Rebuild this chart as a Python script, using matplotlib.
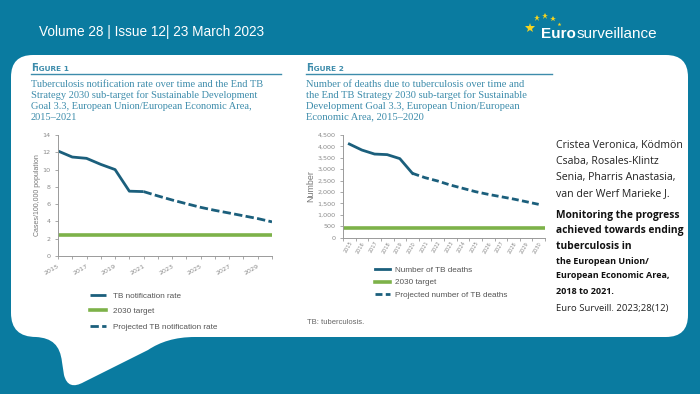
import matplotlib
matplotlib.use("Agg")
import matplotlib.pyplot as plt
from matplotlib.path import Path
from matplotlib.patches import PathPatch
from matplotlib.ticker import FuncFormatter, FixedLocator

# ---------------- data ----------------
years1 = [2015, 2016, 2017, 2018, 2019, 2020, 2021]
rate1 = [12.15, 11.45, 11.3, 10.6, 10.0, 7.5, 7.45]
proj_years1 = [2021, 2022, 2023, 2024, 2025, 2026, 2027, 2028, 2029, 2030]
proj_rate1 = [7.45, 6.95, 6.48, 6.05, 5.63, 5.28, 4.97, 4.65, 4.33, 3.95]
target1 = 2.43
xticks1 = list(range(2015, 2031))
xlabels1 = [str(y) if y % 2 == 1 else "" for y in xticks1]

years2 = ["2015", "2016", "2017", "2018", "2019", "2020", "2021", "2022",
          "2023", "2024", "2025", "2026", "2027", "2028", "2029", "2030"]
deaths2 = [4105, 3840, 3665, 3640, 3465, 2820]
proj_deaths2 = [2820, 2630, 2484, 2308, 2162, 2016, 1900, 1797, 1695, 1578, 1461]
target2 = 410

BG = "#0a7ba0"
DARK = "#1b5f7c"
GREEN = "#7db249"
TEAL_TXT = "#3d8cab"
GRAY = "#8a8a8a"
NARROW = ["Liberation Sans", "DejaVu Sans"]

W, H = 700, 394
fig = plt.figure(figsize=(7, 3.94), dpi=100)
fig.patch.set_facecolor(BG)

# overlay axes in pixel coordinates
ov = fig.add_axes([0, 0, 1, 1])
ov.set_xlim(0, W)
ov.set_ylim(H, 0)
ov.axis("off")

verts = [
    (33, 55), (666, 55), (688, 55), (688, 77), (688, 315), (688, 337), (666, 337),
    (195, 337), (175, 337), (160, 342), (148, 350),
    (84, 382), (68, 391), (64, 375),
    (62, 362), (60, 345), (52, 338), (36, 337),
    (11, 337), (11, 313), (11, 77), (11, 55), (33, 55), (33, 55)]
codes = [Path.MOVETO, Path.LINETO, Path.CURVE3, Path.CURVE3, Path.LINETO, Path.CURVE3, Path.CURVE3,
         Path.LINETO, Path.CURVE4, Path.CURVE4, Path.CURVE4,
         Path.LINETO, Path.CURVE3, Path.CURVE3,
         Path.LINETO, Path.CURVE4, Path.CURVE4, Path.CURVE4,
         Path.CURVE3, Path.CURVE3, Path.LINETO, Path.CURVE3, Path.CURVE3, Path.CLOSEPOLY]
ov.add_patch(PathPatch(Path(verts, codes), facecolor="white", edgecolor="none"))

# header
ov.text(39, 32, "Volume 28 | Issue 12| 23 March 2023", color="white", fontsize=9.8,
        family=NARROW, va="center", ha="left")
t_euro = ov.text(541, 33.5, "Euro", color="white", fontsize=11, family=NARROW, weight="bold",
                 va="center", ha="left")
fig.canvas.draw()
bb = t_euro.get_window_extent()
euro_end = bb.x1
ov.text(euro_end + 0.5, 33.5, "surveillance", color="white", fontsize=11, family=NARROW,
        va="center", ha="left")
for (sx, sy, ss) in [(530, 28, 7), (537, 18, 5), (545, 16, 5), (553, 19, 4), (559, 24, 3)]:
    ov.plot([sx], [sy], marker="*", color="#f5d320", markersize=ss, markeredgewidth=0)

# figure headings
def small_caps(x, y, num):
    ov.text(x, y, "F", color=TEAL_TXT, fontsize=7, weight="bold", family="DejaVu Sans",
            va="baseline", ha="left")
    ov.text(x + 5.2, y, "IGURE " + num, color=TEAL_TXT, fontsize=5.3, weight="bold",
            family="DejaVu Sans", va="baseline", ha="left")

small_caps(31, 71, "1")
small_caps(306, 71, "2")
ov.plot([31, 281], [74, 74], color=TEAL_TXT, lw=1)
ov.plot([306, 552], [74, 74], color=TEAL_TXT, lw=1)

title1 = ["Tuberculosis notification rate over time and the End TB",
          "Strategy 2030 sub-target for Sustainable Development",
          "Goal 3.3, European Union/European Economic Area,",
          "2015\u20132021"]
title2 = ["Number of deaths due to tuberculosis over time and",
          "the End TB Strategy 2030 sub-target for Sustainable",
          "Development Goal 3.3, European Union/European",
          "Economic Area, 2015\u20132020"]
for i, line in enumerate(title1):
    ov.text(31, 84 + 11 * i, line, color=TEAL_TXT, fontsize=7.5, family="Liberation Serif",
            va="center", ha="left")
for i, line in enumerate(title2):
    ov.text(306, 84 + 11 * i, line, color=TEAL_TXT, fontsize=7.55, family="Liberation Serif",
            va="center", ha="left")

ov.text(307, 322, "TB: tuberculosis.", color="#666666", fontsize=5.5, family=NARROW,
        va="center", ha="left")

# right text
authors = ["Cristea Veronica, Ködmön", "Csaba, Rosales-Klintz", "Senia, Pharris Anastasia,",
           "van der Werf Marieke J."]
for i, line in enumerate(authors):
    ov.text(556, 145 + 16.3 * i, line, color="#222222", fontsize=7.6, family="Open Sans",
            va="center", ha="left")
bold1 = ["Monitoring the progress", "achieved towards ending", "tuberculosis in"]
for i, line in enumerate(bold1):
    ov.text(556, 215 + 15.5 * i, line, color="#111111", fontsize=7.4, family="Open Sans",
            weight="bold", va="center", ha="left")
bold2 = ["the European Union/", "European Economic Area,", "2018 to 2021."]
for i, line in enumerate(bold2):
    ov.text(556, 261 + 15 * i, line, color="#111111", fontsize=6.5, family="Open Sans",
            weight="bold", va="center", ha="left")
ov.text(556, 308, "Euro Surveill. 2023;28(12)", color="#222222", fontsize=6.8,
        family="Open Sans", va="center", ha="left")


def fr(l, t, r, b):
    return [l / W, 1 - b / H, (r - l) / W, (b - t) / H]


def style(ax):
    for s in ["top", "right"]:
        ax.spines[s].set_visible(False)
    for s in ["left", "bottom"]:
        ax.spines[s].set_color("#9a9a9a")
        ax.spines[s].set_linewidth(0.7)
    ax.set_facecolor("none")
    ax.tick_params(colors="#9a9a9a", labelcolor=GRAY, length=2, width=0.6, labelsize=4.6)


# ---------------- chart 1 ----------------
ax1 = fig.add_axes(fr(58, 135, 272, 256))
style(ax1)
l1, = ax1.plot(years1, rate1, color=DARK, lw=2.0, solid_capstyle="butt",
               label="TB notification rate")
l2 = ax1.axhline(target1, color=GREEN, lw=2.6, label="2030 target")
l3, = ax1.plot(proj_years1, proj_rate1, color=DARK, lw=2.0, dashes=(3, 1.2),
               label="Projected TB notification rate")
ax1.set_xlim(2015, 2030)
ax1.set_ylim(0, 14)
ax1.set_yticks(range(0, 15, 2))
ax1.set_xticks(xticks1)
ax1.set_xticklabels(xlabels1, rotation=30, ha="right", rotation_mode="anchor")
ax1.set_ylabel("Cases/100,000 population", fontsize=5.0, color="#777777", labelpad=1,
               family=NARROW)
ax1.legend(handles=[l1, l2, l3], loc="upper left", bbox_to_anchor=(90 / W, 1 - 292 / H),
           bbox_transform=fig.transFigure, frameon=False, labelcolor="#555555",
           handlelength=2.0, handletextpad=0.8, labelspacing=0.95, borderaxespad=0,
           borderpad=0, prop={"family": NARROW, "size": 5.9})

# ---------------- chart 2 ----------------
ax2 = fig.add_axes(fr(343, 135, 545, 237.7))
style(ax2)
idx = list(range(len(years2)))
m1, = ax2.plot(idx[:len(deaths2)], deaths2, color=DARK, lw=2.0, label="Number of TB deaths")
m2 = ax2.axhline(target2, color=GREEN, lw=2.6, label="2030 target")
m3, = ax2.plot(idx[len(deaths2) - 1:], proj_deaths2, color=DARK, lw=2.0, dashes=(2.5, 1.2),
               label="Projected number of TB deaths")
ax2.set_xlim(-0.5, len(years2) - 0.5)
ax2.set_ylim(0, 4500)
ax2.set_yticks(range(0, 4501, 500))
ax2.yaxis.set_major_formatter(FuncFormatter(lambda v, p: f"{int(v):,}"))
ax2.set_xticks(idx)
ax2.set_xticklabels(years2, rotation=60, ha="right", rotation_mode="anchor", fontsize=3.6)
ax2.tick_params(axis="x", length=0, pad=2)
ax2.xaxis.set_minor_locator(FixedLocator([i - 0.5 for i in range(len(years2) + 1)]))
ax2.tick_params(axis="x", which="minor", length=2, width=0.6, colors="#9a9a9a")
ax2.set_ylabel("Number", fontsize=6.4, color="#777777", labelpad=1.5, family=NARROW)
ax2.legend(handles=[m1, m2, m3], loc="upper left", bbox_to_anchor=(375 / W, 1 - 266 / H),
           bbox_transform=fig.transFigure, frameon=False, labelcolor="#555555",
           handlelength=1.8, handletextpad=0.6, labelspacing=0.6, borderaxespad=0,
           borderpad=0, prop={"family": NARROW, "size": 5.9})

fig.savefig("out.png", dpi=100, facecolor=BG)
